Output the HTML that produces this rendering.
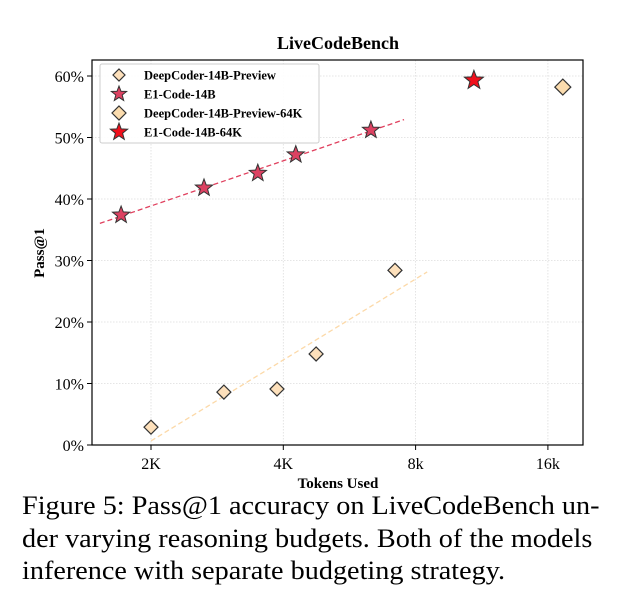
<!DOCTYPE html>
<html><head><meta charset="utf-8"><style>
body{margin:0;background:#fff;width:622px;height:608px;overflow:hidden;font-family:"Liberation Serif",serif}
.cap{position:absolute;left:22px;top:490px;font-size:26px;line-height:32.5px;color:#000;width:560px;white-space:nowrap;transform-origin:0 0;transform:scaleX(1.085)}
</style></head><body>
<svg id="chart" width="622" height="490" style="position:absolute;left:0;top:0" font-family="Liberation Serif, serif"></svg>
<div class="cap">Figure 5: Pass@1 accuracy on LiveCodeBench un-<br>der varying reasoning budgets. Both of the models<br>inference with separate budgeting strategy.</div>
<script>
const xTicks=[2000,4000,8000,16000];
const xTickLabels=["2K","4K","8k","16k"];
const yTicks=[0,10,20,30,40,50,60];
const e1Tokens=[1710,2640,3500,4270,6330];
const e1Pass=[37.4,41.8,44.2,47.2,51.2];
const dcTokens=[2000,2930,3870,4750,7180];
const dcPass=[2.9,8.6,9.1,14.8,28.4];
const e1Tokens64=[10860];const e1Pass64=[59.3];
const dcTokens64=[17300];const dcPass64=[58.2];
const e1FitRange=[1530,7530];
const dcFitRange=[2000,8500];

const L=92,R=583,T=60,B=445;
const X=t=>151+Math.log2(t/2000)*132.3;
const Y=v=>B-v*6.15;
const svg=document.getElementById('chart');
const NS='http://www.w3.org/2000/svg';
function mk(tag,a,p){const e=document.createElementNS(NS,tag);for(const k in a)e.setAttribute(k,a[k]);(p||svg).appendChild(e);return e;}
xTicks.forEach((t,i)=>{
 const g=mk('line',{x1:X(t),x2:X(t),y1:T,y2:B,stroke:'#ddd','stroke-width':0.8,'stroke-dasharray':'1.5,1.5'});
 
 
 const tk=mk('line',{x1:X(t),x2:X(t),y1:B,y2:B+5,stroke:'#000'});
 
 
 const tx=mk('text',{x:X(t),y:B+24,'text-anchor':'middle','font-size':16});tx.textContent=xTickLabels[i];
 
 
});
yTicks.forEach(v=>{
 const g=mk('line',{x1:L,x2:R,y1:Y(v),y2:Y(v),stroke:'#ddd','stroke-width':0.8,'stroke-dasharray':'1.5,1.5'});
 
 
 const tk=mk('line',{x1:L-5,x2:L,y1:Y(v),y2:Y(v),stroke:'#000'});
 
 
 const tx=mk('text',{x:L-8,y:Y(v)+6,'text-anchor':'end','font-size':16});tx.textContent=v+'%';
 
 
});
const fr=mk('rect',{x:L,y:T,width:R-L,height:B-T,fill:'none',stroke:'#000','stroke-width':1.2});


function fit(xs,ys){const lx=xs.map(t=>Math.log2(t));const mx=lx.reduce((a,b)=>a+b)/lx.length,my=ys.reduce((a,b)=>a+b)/ys.length;let sxy=0,sxx=0;lx.forEach((x,i)=>{sxy+=(x-mx)*(ys[i]-my);sxx+=(x-mx)**2});const s=sxy/sxx;return t=>my+s*(Math.log2(t)-mx);}
const fe=fit(e1Tokens,e1Pass),fd=fit(dcTokens,dcPass);
const l1=mk('line',{x1:X(e1FitRange[0]),y1:Y(fe(e1FitRange[0])),x2:X(e1FitRange[1]),y2:Y(fe(e1FitRange[1])),stroke:'#e0405e','stroke-width':1.3,'stroke-dasharray':'5,3'});


const l2=mk('line',{x1:X(dcFitRange[0]),y1:Y(fd(dcFitRange[0])),x2:X(dcFitRange[1]),y2:Y(fd(dcFitRange[1])),stroke:'#fcd9a8','stroke-width':1.3,'stroke-dasharray':'5,3'});


function star(cx,cy,r,fill){let p=[];for(let i=0;i<10;i++){const rr=i%2?r*0.42:r;const a=-Math.PI/2+i*Math.PI/5;p.push((cx+rr*Math.cos(a)).toFixed(1)+','+(cy+rr*Math.sin(a)).toFixed(1));}return mk('polygon',{points:p.join(' '),fill:fill,stroke:'#333','stroke-width':1});}
function dia(cx,cy,r,fill){return mk('polygon',{points:`${cx},${cy-r} ${cx+r},${cy} ${cx},${cy+r} ${cx-r},${cy}`,fill:fill,stroke:'#333','stroke-width':1.2});}
dcTokens.forEach((t,i)=>{const m=dia(X(t),Y(dcPass[i]),7,'#fde0bb');});
e1Tokens.forEach((t,i)=>{const m=star(X(t),Y(e1Pass[i]),9,'#dc4262');});
dcTokens64.forEach((t,i)=>{const m=dia(X(t),Y(dcPass64[i]),8,'#fbdcae');});
e1Tokens64.forEach((t,i)=>{const m=star(X(t),Y(e1Pass64[i]),10,'#f0101c');});
const lg=mk('g',{});
mk('rect',{x:100,y:64,width:219,height:79,rx:2,fill:'#fff','fill-opacity':0.9,stroke:'#ccc'},lg);
const ln=['DeepCoder-14B-Preview','E1-Code-14B','DeepCoder-14B-Preview-64K','E1-Code-14B-64K'];
ln.forEach((n,i)=>{const y=75+i*19;
 const m=i==0?dia(119,y,6,'#fde0bb'):i==1?star(119,y,8,'#dc4262'):i==2?dia(119,y,7,'#fbdcae'):star(119,y,9,'#f0101c');lg.appendChild(m);
 const t=mk('text',{x:144,y:y+4.5,'font-size':12.5,'font-weight':'bold'},lg);t.textContent=n;
 
 });
const ti=mk('text',{x:338,y:49,'text-anchor':'middle','font-size':18,'font-weight':'bold'});ti.textContent='LiveCodeBench';

const xl=mk('text',{x:338,y:488,'text-anchor':'middle','font-size':15,'font-weight':'bold'});xl.textContent='Tokens Used';

const yl=mk('text',{x:0,y:0,'text-anchor':'middle','font-size':15,'font-weight':'bold',transform:'translate(44,253) rotate(-90)'});yl.textContent='Pass@1';

</script>
</body></html>
